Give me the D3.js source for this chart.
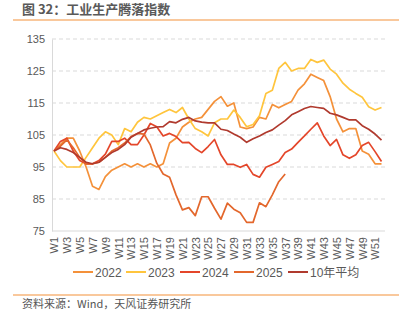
<!DOCTYPE html>
<html>
<head>
<meta charset="utf-8">
<script src="https://cdn.jsdelivr.net/npm/d3@7/dist/d3.min.js"></script>
<style>
  html, body { margin: 0; padding: 0; background: #fff; }
  svg { display: block; font-family: "Liberation Sans", Arial, "Noto Sans CJK SC", sans-serif; }
</style>
</head>
<body>
<svg id="chart" width="412" height="327"></svg>
<script>
const weeks = d3.range(1, 53).map(i => "W" + i);
const tickLabels = d3.range(1, 53, 2).map(i => "W" + i);
const yTicks = [75, 85, 95, 105, 115, 125, 135];

const s2022 = [100,102,104,104,100,95,89,88,92,94,95,96,95,96,95,96,95,96,102.5,104,107.5,109,110,110.5,113,115.5,117,114,115,107.5,107,107.5,110.5,110,114.5,113.5,114.5,115.5,119,121,124,123,122,117,110,106,107,107,100,99,96,96];
const s2023 = [100,97,95,95,95,98,101,104,106,105,102,107,106,109,110.5,110,111,112,113,112,113.6,110,107,106,104.7,108.8,110,110,112.8,110.5,107.6,108.3,111,118,119,125.8,127.7,125,125.8,125.8,128.6,127.7,128.4,125.6,124,121.2,119.3,118,116.8,113.8,112.8,113.6];
const s2024 = [100,103,104,100,97,96,96,97,99,103,103,104,102,102,105,108.6,107.6,104.7,105.5,104.5,102.6,102.7,100.8,99.5,101.4,103.6,98.8,95.8,95.8,94.9,95.8,92.7,91.8,94.9,95.8,96.7,99.5,100.6,102.7,104.7,106.8,108.8,104.7,101.7,103.6,98.8,97.7,98.8,101.7,102.7,99.8,96.7];
const s2025 = [100,101.5,103.5,101,98,96,96,96.5,98,100,101,102.5,104.5,105.5,105.3,101.9,96.2,92.8,91.8,86.3,81.6,82.3,79.8,85.7,85.7,82.1,78.7,83.7,81.8,80.7,77.7,77.7,83.8,82.6,86.3,90.4,92.8];
const sAvg = [100,101,100.5,99.5,98,96.5,96,96.5,98,99.5,100.5,102,104.3,105.5,106.6,107.1,107.5,107.6,109.2,108.8,109.9,110.5,109.4,109,108.8,108.8,106.8,106.4,105.3,104.3,102.7,103.8,104.7,105.8,106.6,108.1,109.5,111.3,112.3,113.3,113.9,113.6,113.3,111.8,111.3,110.5,109.7,109.7,107.9,106.8,105.3,103.4];

const seriesNames = ["2022", "2023", "2024", "2025", "10年平均"];
const seriesColors = ["#F4913A", "#FFC53D", "#E4462A", "#E3672C", "#B03A2E"];
const seriesData = [s2022, s2023, s2024, s2025, sAvg];

const svg = d3.select("#chart");
const textColor = "#595959";

// Title
svg.append("text").attr("x", 22).attr("y", 14)
  .attr("font-size", 13).attr("font-weight", "bold").attr("fill", "#595959")
  .attr("font-family", "'Noto Sans CJK SC', sans-serif")
  .text("图 32：工业生产腾落指数");
svg.append("line").attr("x1", 13).attr("x2", 399).attr("y1", 20).attr("y2", 20)
  .attr("stroke", "#F4913A").attr("stroke-width", 1.2);

const x = d3.scalePoint().domain(weeks).range([54, 381.5]);
const y = d3.scaleLinear().domain([75, 135]).range([231, 39]);

// Gridlines
svg.append("g").selectAll("line").data(yTicks.filter(v => v > 75)).join("line")
  .attr("x1", 52).attr("x2", 385)
  .attr("y1", d => y(d)).attr("y2", d => y(d))
  .attr("stroke", "#D9D9D9").attr("stroke-dasharray", "4,3").attr("stroke-width", 1);

// Y axis
const yAxis = svg.append("g").attr("transform", "translate(52,0)")
  .call(d3.axisLeft(y).tickValues(yTicks).tickSize(0).tickPadding(7));
yAxis.select(".domain").attr("stroke", "#D9D9D9");
yAxis.selectAll("text").attr("font-size", 11).attr("fill", textColor)
  .attr("font-family", "'Liberation Sans', Arial, sans-serif");

// X axis
const xAxis = svg.append("g").attr("transform", "translate(0,231)")
  .call(d3.axisBottom(x).tickValues(tickLabels).tickSize(0).tickPadding(0));
xAxis.select(".domain").attr("d", "M52,0H385").attr("stroke", "#D9D9D9");
xAxis.selectAll("text")
  .attr("font-size", 11).attr("fill", textColor)
  .attr("font-family", "'Liberation Sans', Arial, sans-serif")
  .attr("transform", "rotate(-90)")
  .attr("text-anchor", "end")
  .attr("dy", "0.35em")
  .attr("x", -6).attr("y", 0);

// Lines
const line = d3.line().x((d, i) => x(weeks[i])).y(d => y(d));
seriesData.forEach((data, k) => {
  svg.append("path").datum(data)
    .attr("fill", "none")
    .attr("stroke", seriesColors[k])
    .attr("stroke-width", 1.7)
    .attr("stroke-linejoin", "round")
    .attr("d", line);
});

// Legend
const legendX = [73, 126, 180, 234, 288];
const legend = svg.append("g");
seriesNames.forEach((name, k) => {
  legend.append("line").attr("x1", legendX[k]).attr("x2", legendX[k] + 20)
    .attr("y1", 272).attr("y2", 272)
    .attr("stroke", seriesColors[k]).attr("stroke-width", 2);
  legend.append("text").attr("x", legendX[k] + 22).attr("y", 276.5)
    .attr("font-size", 12).attr("fill", textColor)
    .attr("font-family", "'Liberation Sans', 'Noto Sans CJK SC', sans-serif")
    .text(name);
});

// Footer
svg.append("line").attr("x1", 13).attr("x2", 399).attr("y1", 295).attr("y2", 295)
  .attr("stroke", "#F4913A").attr("stroke-width", 1.2);
svg.append("text").attr("x", 22).attr("y", 308)
  .attr("font-size", 11).attr("fill", "#555")
  .attr("font-family", "'Noto Sans CJK SC', sans-serif")
  .text("资料来源：Wind，天风证券研究所");
</script>
</body>
</html>
